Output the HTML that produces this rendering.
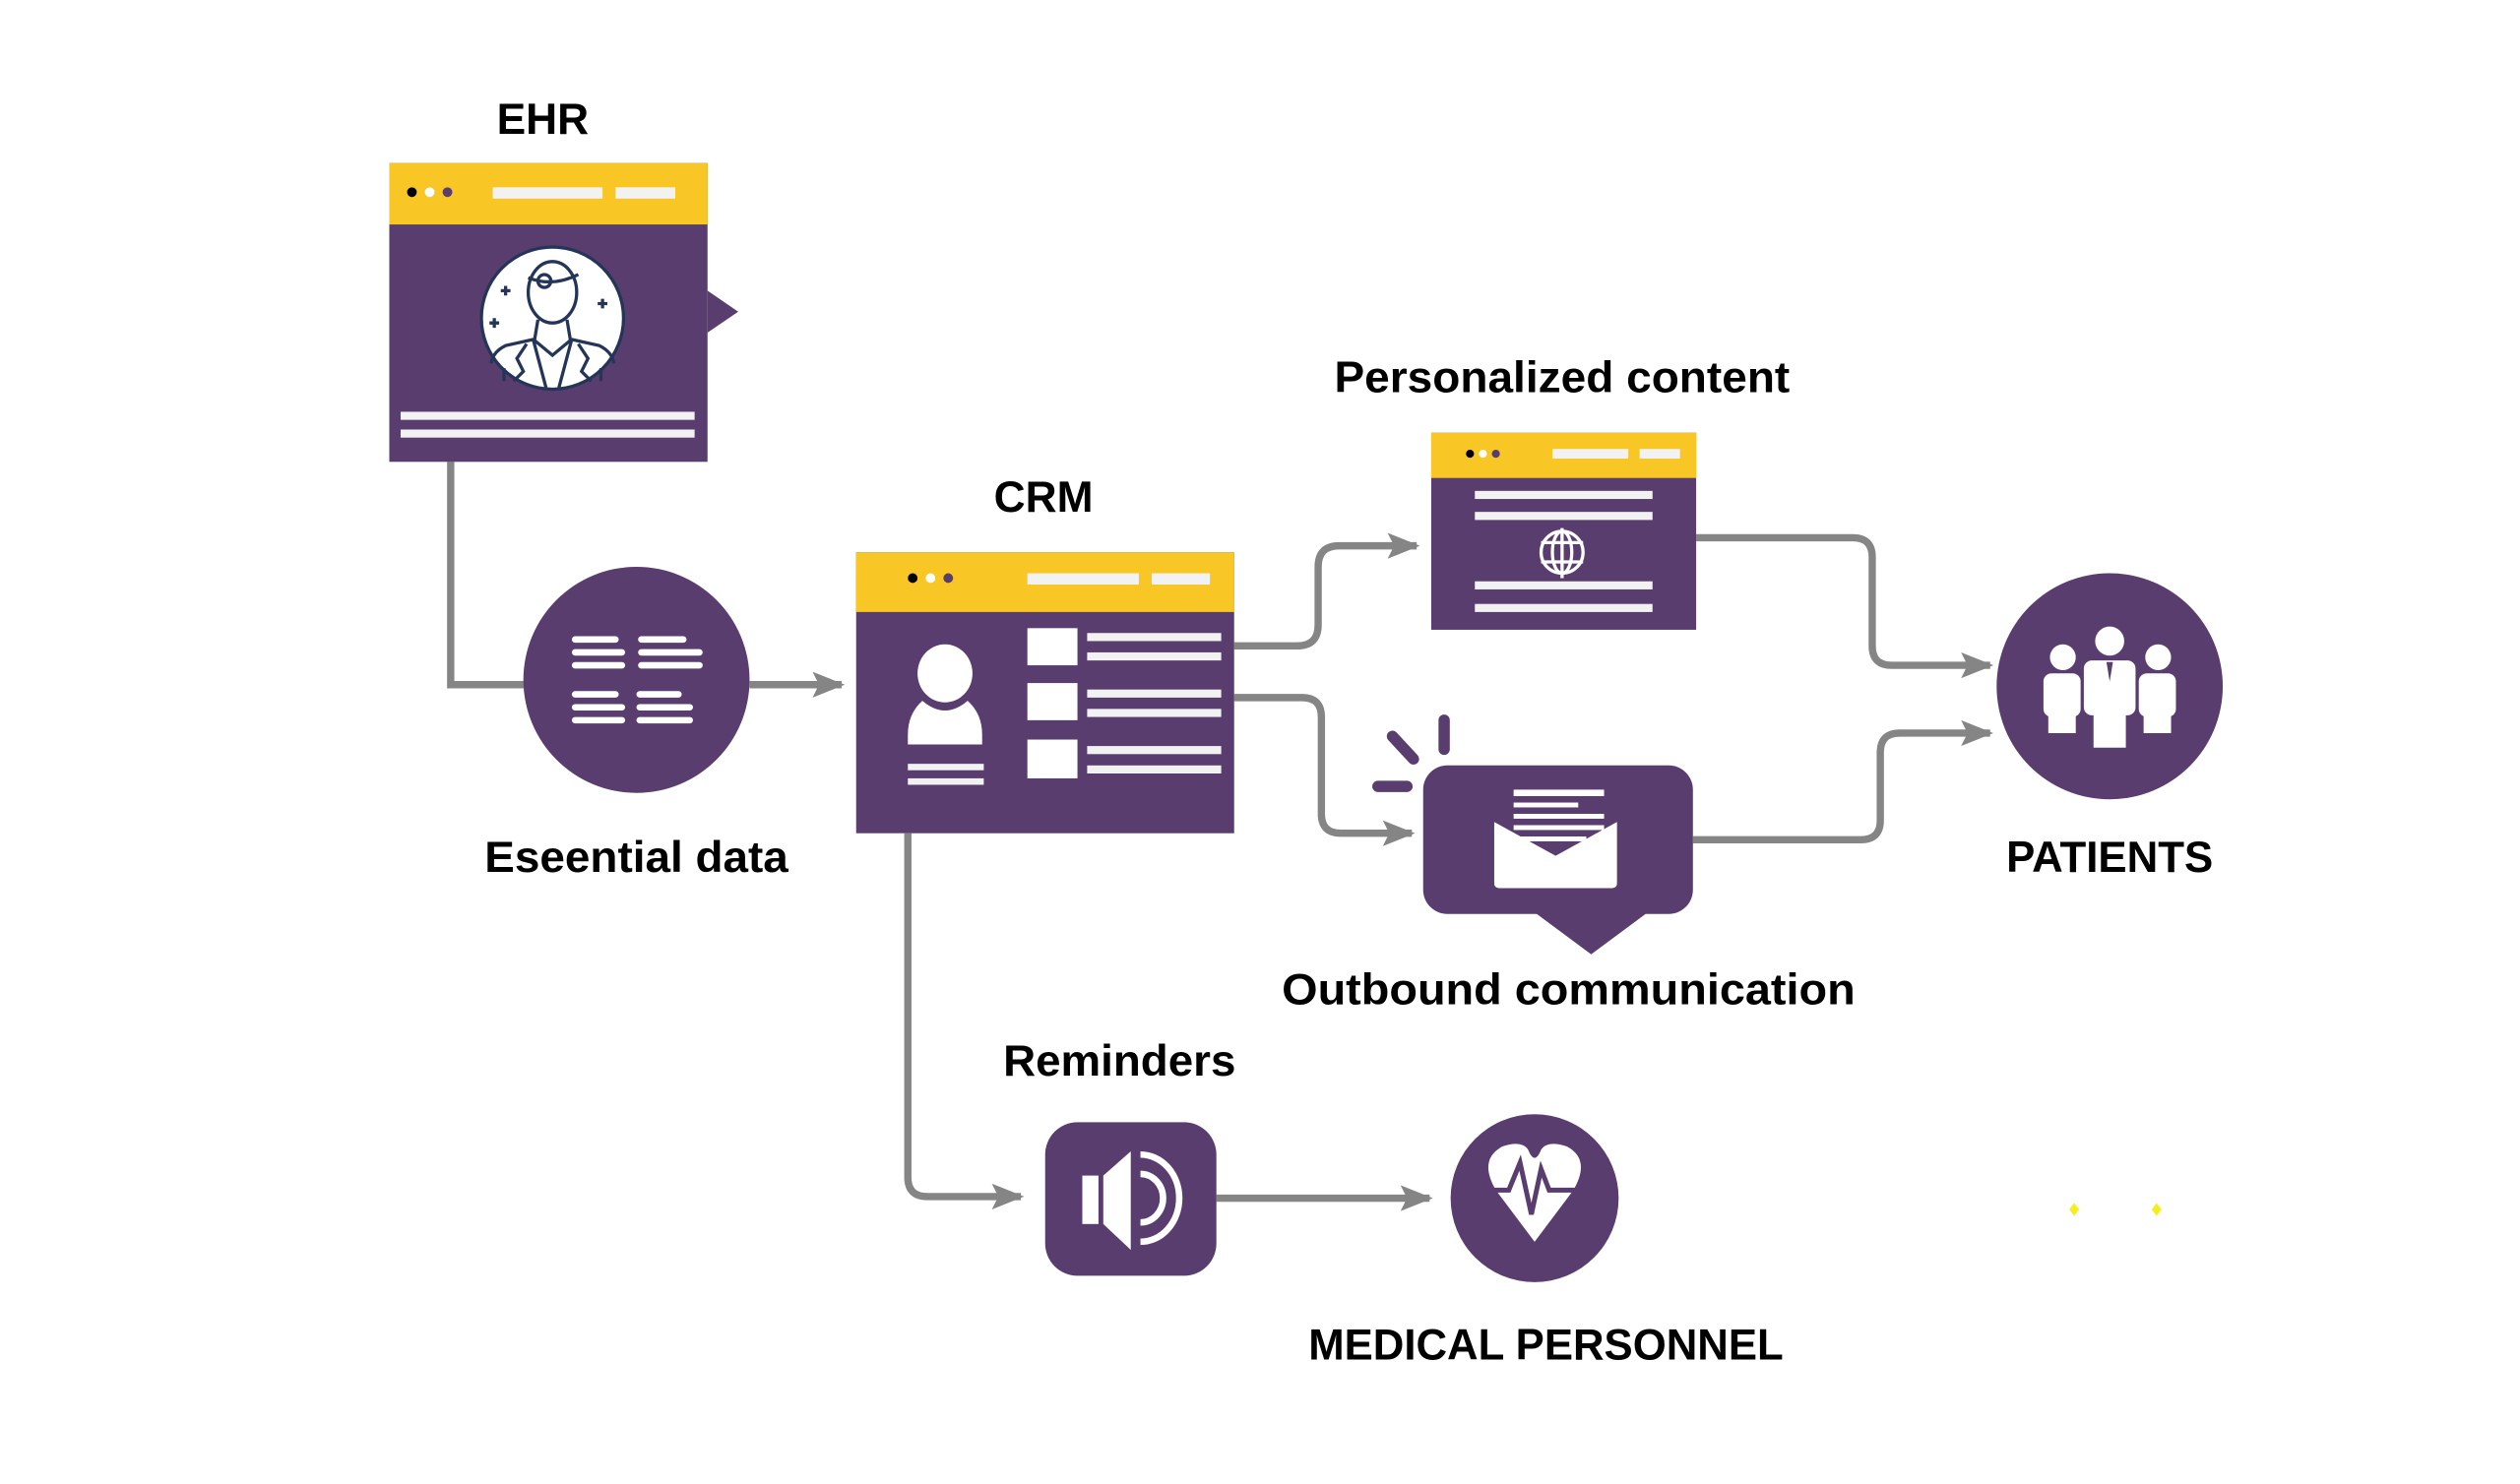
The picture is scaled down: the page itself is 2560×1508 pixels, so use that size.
<!DOCTYPE html>
<html><head><meta charset="utf-8"><style>
html,body{margin:0;padding:0;background:#fff;}
svg{display:block;}
text{font-family:"Liberation Sans",sans-serif;font-weight:bold;fill:#000;}
</style></head><body>
<svg width="2560" height="1508" viewBox="0 0 1560 919" preserveAspectRatio="none" xmlns="http://www.w3.org/2000/svg">
<defs>
<marker id="ah" viewBox="0 0 20 16" refX="18" refY="8" markerWidth="20" markerHeight="16" markerUnits="userSpaceOnUse" orient="auto">
<path d="M0,0 L20,8 L0,16 L4,8 Z" fill="#858585"/>
</marker>
</defs>
<rect width="1560" height="919" fill="#fff"/>

<!-- connectors -->
<g fill="none" stroke="#858585" stroke-width="4.5">
<path d="M279,286 V424 H326"/>
<path d="M464,424 H521" marker-end="url(#ah)"/>
<path d="M764,400 H803 Q816,400 816,387 V351 Q816,338 829,338 H877" marker-end="url(#ah)"/>
<path d="M764,432 H806 Q818,432 818,444 V504 Q818,516 830,516 H874" marker-end="url(#ah)"/>
<path d="M1050,333 H1147 Q1159,333 1159,345 V400 Q1159,412 1171,412 H1232" marker-end="url(#ah)"/>
<path d="M1048,520 H1152 Q1164,520 1164,508 V466 Q1164,454 1176,454 H1232" marker-end="url(#ah)"/>
<path d="M562,516 V729 Q562,741 574,741 H632" marker-end="url(#ah)"/>
<path d="M753,742 H885" marker-end="url(#ah)"/>
</g>

<!-- EHR -->
<text x="336" y="83" font-size="27" text-anchor="middle">EHR</text>
<rect x="241" y="101" width="197" height="185" fill="#5a3d6f"/>
<polygon points="438,180 457,193 438,206" fill="#5a3d6f"/>
<rect x="241" y="101" width="197" height="38" fill="#f8c625"/>
<circle cx="255" cy="119" r="3" fill="#000"/><circle cx="266" cy="119" r="3" fill="#fff"/><circle cx="277" cy="119" r="3" fill="#5a3d6f"/>
<rect x="305" y="116" width="68" height="7" fill="#f2f2f2"/><rect x="381" y="116" width="37" height="7" fill="#f2f2f2"/>
<circle cx="342" cy="197" r="44" fill="#fff" stroke="#243558" stroke-width="2"/>
<g fill="none" stroke="#243558" stroke-width="2">
<ellipse cx="342" cy="181" rx="15" ry="19"/>
<path d="M327,172 Q342,178 358,170"/><circle cx="337" cy="174" r="4"/>
<path d="M333,198 L331,210 L313,214 Q305,218 304,225 M351,198 L353,210 L371,214 Q379,218 380,225"/>
<path d="M330,210 L342,220 L354,210 M330,210 L338,240 M354,210 L346,240 M326,213 L320,222 L324,230 L318,236 M358,213 L364,222 L360,230 L366,236"/>
<path d="M312,228 V236 M372,228 V236"/>
<path d="M310,180 H316 M313,177 V183 M370,188 H376 M373,185 V191 M303,200 H309 M306,197 V203"/>
</g>
<rect x="248" y="255" width="182" height="5" fill="#f2f2f2"/><rect x="248" y="266" width="182" height="5" fill="#f2f2f2"/>

<!-- Essential data -->
<circle cx="394" cy="421" r="70" fill="#5a3d6f"/>
<g stroke="#fff" stroke-width="4" stroke-linecap="round">
<path d="M356,396 H381 M356,404 H385 M356,412 H385 M397,396 H423 M397,404 H433 M397,412 H433"/>
<path d="M356,430 H381 M356,438 H385 M356,446 H385 M396,430 H420 M396,438 H427 M396,446 H427"/>
</g>
<text x="394" y="540" font-size="27" text-anchor="middle" textLength="188" lengthAdjust="spacingAndGlyphs">Eseential data</text>

<!-- CRM -->
<text x="646" y="317" font-size="27" text-anchor="middle">CRM</text>
<rect x="530" y="342" width="234" height="174" fill="#5a3d6f"/>
<rect x="530" y="342" width="234" height="37" fill="#f8c625"/>
<circle cx="565" cy="358" r="3" fill="#000"/><circle cx="576" cy="358" r="3" fill="#fff"/><circle cx="587" cy="358" r="3" fill="#5a3d6f"/>
<rect x="636" y="355" width="69" height="7" fill="#f2f2f2"/><rect x="713" y="355" width="36" height="7" fill="#f2f2f2"/>
<ellipse cx="585" cy="417" rx="17" ry="18" fill="#fff"/>
<path d="M571,434 Q585,446 599,434 Q608,442 608,455 V461 H562 V455 Q562,442 571,434 Z" fill="#fff"/>
<rect x="562" y="473" width="47" height="4" fill="#f2f2f2"/><rect x="562" y="482" width="47" height="4" fill="#f2f2f2"/>
<g fill="#fff"><rect x="636" y="389" width="31" height="23"/><rect x="636" y="423" width="31" height="23"/><rect x="636" y="458" width="31" height="24"/></g>
<g fill="#f2f2f2"><rect x="673" y="392" width="83" height="5"/><rect x="673" y="404" width="83" height="5"/><rect x="673" y="427" width="83" height="5"/><rect x="673" y="439" width="83" height="5"/><rect x="673" y="462" width="83" height="5"/><rect x="673" y="474" width="83" height="5"/></g>

<!-- Personalized content -->
<text x="967" y="243" font-size="27" text-anchor="middle" textLength="282" lengthAdjust="spacingAndGlyphs">Personalized content</text>
<rect x="886" y="268" width="164" height="122" fill="#5a3d6f"/>
<rect x="886" y="268" width="164" height="28" fill="#f8c625"/>
<circle cx="910" cy="281" r="2.5" fill="#000"/><circle cx="918" cy="281" r="2.5" fill="#fff"/><circle cx="926" cy="281" r="2.5" fill="#5a3d6f"/>
<rect x="961" y="278" width="47" height="6" fill="#f2f2f2"/><rect x="1015" y="278" width="25" height="6" fill="#f2f2f2"/>
<g fill="#f2f2f2"><rect x="913" y="304" width="110" height="5"/><rect x="913" y="317" width="110" height="5"/><rect x="913" y="360" width="110" height="5"/><rect x="913" y="374" width="110" height="5"/></g>
<g fill="none" stroke="#fff" stroke-width="2"><circle cx="967" cy="342" r="13"/><ellipse cx="967" cy="342" rx="6" ry="13"/><path d="M967,327 V358 M954,336 H980 M954,348 H980"/></g>

<!-- Outbound -->
<rect x="881" y="474" width="167" height="92" rx="15" fill="#5a3d6f"/>
<polygon points="950,565 1020,565 985,591" fill="#5a3d6f"/>
<g stroke="#5a3d6f" stroke-width="7" stroke-linecap="round"><path d="M862,456 L875,470 M894,446 V464 M853,487 H871"/></g>
<g fill="#fff"><rect x="937" y="489" width="56" height="4"/><rect x="937" y="497" width="40" height="3"/><rect x="937" y="504" width="56" height="3"/><rect x="937" y="511" width="56" height="3"/><rect x="937" y="518" width="45" height="3"/></g>
<path d="M925,509 L963,530 L1001,509 V547 Q1001,550 997,550 H929 Q925,550 925,547 Z" fill="#fff"/>
<text x="971" y="622" font-size="27" text-anchor="middle" textLength="355" lengthAdjust="spacingAndGlyphs">Outbound communication</text>

<!-- Patients -->
<circle cx="1306" cy="425" r="70" fill="#5a3d6f"/>
<g fill="#fff">
<circle cx="1277" cy="407" r="8"/><rect x="1265" y="417" width="23" height="27" rx="5"/><rect x="1268" y="440" width="17" height="14"/>
<circle cx="1336" cy="407" r="8"/><rect x="1324" y="417" width="23" height="27" rx="5"/><rect x="1327" y="440" width="17" height="14"/>
<circle cx="1306" cy="397" r="9"/><rect x="1290" y="409" width="32" height="34" rx="5"/><rect x="1296" y="440" width="20" height="23"/>
</g>
<path d="M1304,410 L1306,422 L1308,410 Z" fill="#5a3d6f"/>
<text x="1306" y="540" font-size="27" text-anchor="middle" textLength="128" lengthAdjust="spacingAndGlyphs">PATIENTS</text>

<!-- Reminders -->
<text x="693" y="666" font-size="27" text-anchor="middle" textLength="144" lengthAdjust="spacingAndGlyphs">Reminders</text>
<rect x="647" y="695" width="106" height="95" rx="20" fill="#5a3d6f"/>
<g fill="#fff"><rect x="670" y="728" width="10" height="30"/><path d="M683,728 L700,713 V774 L683,758 Z"/></g>
<g fill="none" stroke="#fff" stroke-width="4"><path d="M706,727 A14,15 0 0 1 706,757"/><path d="M706,715 A24,27 0 0 1 706,769"/></g>

<!-- Medical -->
<circle cx="950" cy="742" r="52" fill="#5a3d6f"/>
<path d="M950,769 L926,737 Q915,718 930,710 Q942,706 946,712 Q950,722 954,712 Q958,706 970,710 Q985,718 974,737 Z" fill="#fff"/>
<path d="M920,737 H934 L941,720 L948,752 L954,724 L959,737 H980" fill="none" stroke="#5a3d6f" stroke-width="3"/>
<text x="957" y="842" font-size="27" text-anchor="middle" textLength="294" lengthAdjust="spacingAndGlyphs">MEDICAL PERSONNEL</text>

<g fill="#f5ee1a"><polygon points="1284,745 1287,749 1284,753 1281,749"/><polygon points="1335,745 1338,749 1335,753 1332,749"/></g>
</svg>
</body></html>
